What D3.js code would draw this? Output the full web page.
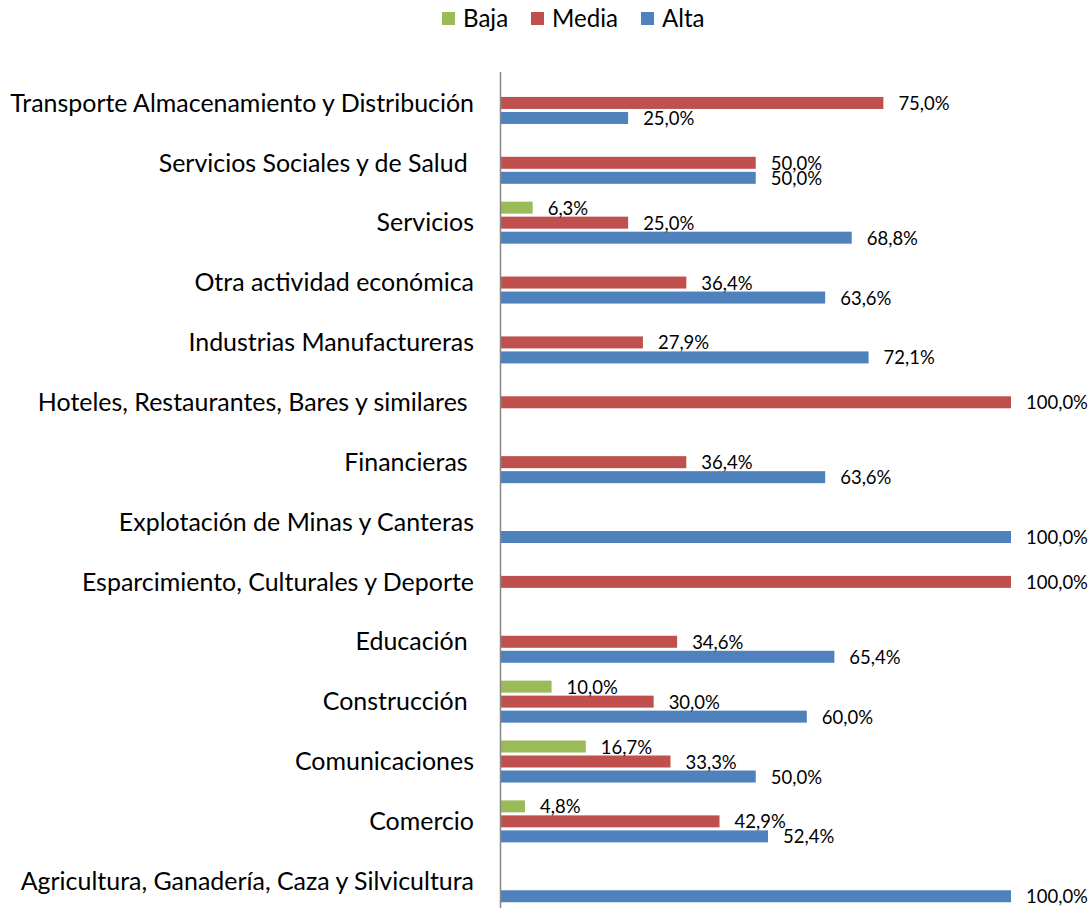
<!DOCTYPE html>
<html>
<head>
<meta charset="utf-8">
<script src="https://cdn.jsdelivr.net/npm/d3@7"></script>
<style>
  html, body { margin: 0; padding: 0; background: #fff; }
  svg { display: block; }
  text { font-family: Lato, "Open Sans", sans-serif; fill: #000; white-space: pre; }
</style>
</head>
<body>
<svg id="chart" width="1092" height="908"></svg>
<script>
// Sectors, top to bottom
const categories = [
  "Transporte Almacenamiento y Distribución",
  "Servicios Sociales y de Salud ",
  "Servicios",
  "Otra actividad económica",
  "Industrias Manufactureras",
  "Hoteles, Restaurantes, Bares y similares ",
  "Financieras ",
  "Explotación de Minas y Canteras",
  "Esparcimiento, Culturales y Deporte",
  "Educación ",
  "Construcción ",
  "Comunicaciones",
  "Comercio",
  "Agricultura, Ganadería, Caza y Silvicultura"
];

const seriesNames = ["Baja", "Media", "Alta"];
const seriesColors = ["#9BBB59", "#C0504D", "#4F81BD"];

// Percentages per sector (null = no bar)
const baja  = [null, null, 6.3, null, null, null, null, null, null, null, 10.0, 16.7, 4.8, null];
const media = [75.0, 50.0, 25.0, 36.4, 27.9, 100.0, 36.4, null, 100.0, 34.6, 30.0, 33.3, 42.9, null];
const alta  = [25.0, 50.0, 68.8, 63.6, 72.1, null, 63.6, 100.0, null, 65.4, 60.0, 50.0, 52.4, 100.0];

const seriesValues = [baja, media, alta];

const svg = d3.select("#chart");

const x = d3.scaleLinear().domain([0, 100]).range([500.5, 1011]);
const y = d3.scaleBand().domain(categories).range([73, 73 + 14 * 59.87]);
const ySub = d3.scaleBand().domain(seriesNames).range([0, y.bandwidth()])
  .paddingInner(0.2).paddingOuter(0.595);

const fmt = v => d3.format(".1f")(v).replace(".", ",") + "%";

// Fit a font size so that a sample string spans a given width
function fitSize(sample, targetWidth, base) {
  const t = svg.append("text").attr("font-size", base).text(sample);
  const w = t.node().getComputedTextLength();
  t.remove();
  return base * targetWidth / w;
}
const catSize = fitSize("Transporte Almacenamiento y Distribución", 464, 20);
const valSize = fitSize("100,0%", 62, 16);
const legSize = fitSize("Media", 66, 20);

// Bars
const rows = [];
seriesNames.forEach((s, si) => {
  categories.forEach((c, ci) => {
    const v = seriesValues[si][ci];
    if (v != null) rows.push({ cat: c, series: s, color: seriesColors[si], value: v });
  });
});

const g = svg.append("g");
g.selectAll("rect.bar").data(rows).enter().append("rect")
  .attr("class", "bar")
  .attr("x", x(0))
  .attr("y", d => y(d.cat) + ySub(d.series))
  .attr("width", d => x(d.value) - x(0))
  .attr("height", ySub.bandwidth())
  .attr("fill", d => d.color);

// Value labels
g.selectAll("text.val").data(rows).enter().append("text")
  .attr("class", "val")
  .attr("x", d => x(d.value) + 15)
  .attr("y", d => y(d.cat) + ySub(d.series) + ySub.bandwidth() / 2)
  .attr("dy", "0.38em")
  .attr("font-size", valSize)
  .text(d => fmt(d.value));

// Category axis line
svg.append("line")
  .attr("x1", x(0)).attr("x2", x(0))
  .attr("y1", 72).attr("y2", 908)
  .attr("stroke", "#868686").attr("stroke-width", 1.5);

// Category labels
svg.append("g").selectAll("text").data(categories).enter().append("text")
  .attr("x", 474)
  .attr("y", d => y(d) + y.bandwidth() / 2)
  .attr("dy", "0.35em")
  .attr("text-anchor", "end")
  .attr("font-size", catSize)
  .text(d => d);

// Legend
const legendX = [442, 531, 641];
const legend = svg.append("g").selectAll("g").data(seriesNames).enter().append("g")
  .attr("transform", (d, i) => `translate(${legendX[i]},0)`);
legend.append("rect")
  .attr("x", 0).attr("y", 12).attr("width", 13).attr("height", 13)
  .attr("fill", (d, i) => seriesColors[i]);
legend.append("text")
  .attr("x", 21).attr("y", 18.5).attr("dy", "0.36em")
  .attr("font-size", legSize)
  .text(d => d);
</script>
</body>
</html>
